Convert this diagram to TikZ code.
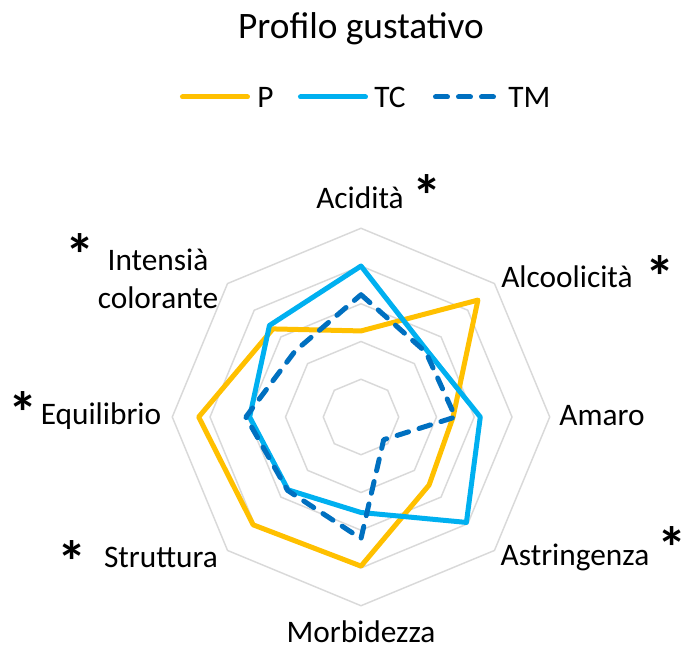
\documentclass[tikz,border=0pt]{standalone}
\usepackage{fontspec}
\setmainfont{Carlito}
\definecolor{pyellow}{HTML}{FFC000}
\definecolor{tcblue}{HTML}{00B0F0}
\definecolor{tmblue}{HTML}{0070C0}
\definecolor{gridgray}{HTML}{D9D9D9}
\begin{document}
\begin{tikzpicture}[
    x=0.75pt, y=0.75pt,
    ring/.style={draw=gridgray, line width=1.1pt},
    lbl/.style={font=\fontsize{23.5}{28.5}\selectfont, inner sep=0pt, align=center},
    star/.style={font=\fontsize{44}{44}\selectfont\bfseries, inner sep=0pt},
    pline/.style={draw=pyellow, line width=3.75pt, line join=round, line cap=round},
    tcline/.style={draw=tcblue, line width=3.75pt, line join=round, line cap=round},
    tmline/.style={draw=tmblue, line width=3.75pt, line join=round, line cap=round, dash pattern=on 9pt off 8.25pt}
]
    \useasboundingbox (-361,-233) rectangle (321,417);

    % Title
    \node[font=\fontsize{28}{34}\selectfont] (title) at (0,388) {Profilo gustativo};

    % Legend
    \node[lbl, anchor=west] (legp) at (-104,320) {P};
    \node[lbl, anchor=west] (legtc) at (13,320) {TC};
    \node[lbl, anchor=west] (legtm) at (147,320) {TM};
    \coordinate (pa) at (-178.5,320);
    \coordinate (pb) at (-113.5,320);
    \coordinate (tca) at (-60.5,320);
    \coordinate (tcb) at (4.5,320);
    \coordinate (tma) at (74.5,320);
    \coordinate (tmb) at (136,320);
    \draw[pline] (pa) -- (pb);
    \draw[tcline] (tca) -- (tcb);
    \draw[tmline] (tma) -- (tmb);

    % Radar grid and series
    \begin{scope}[x=28.31pt, y=28.31pt]
        \foreach \k in {1,...,5}
            \draw[ring] (90:\k) -- (45:\k) -- (0:\k) -- (-45:\k) -- (-90:\k) -- (-135:\k) -- (180:\k) -- (135:\k) -- cycle;
        \draw[pline] (90:2.28) -- (45:4.38) -- (0:2.44) -- (-45:2.55) -- (-90:3.95) -- (-135:4.04) -- (180:4.3) -- (135:3.3) -- cycle;
        \draw[tcline] (90:4.0) -- (45:2.48) -- (0:3.16) -- (-45:3.95) -- (-90:2.53) -- (-135:2.73) -- (180:2.95) -- (135:3.43) -- cycle;
        \draw[tmline] (90:3.24) -- (45:2.43) -- (0:2.5) -- (-45:0.85) -- (-90:3.22) -- (-135:2.75) -- (180:3.05) -- (135:2.47) -- cycle;
    \end{scope}

    % Axis labels
    \node[lbl] (acidita) at (-1,219) {Acidità};
    \node[lbl] (alcool) at (206,140) {Alcoolicità};
    \node[lbl] (amaro) at (241,1) {Amaro};
    \node[lbl] (astring) at (214,-140) {Astringenza};
    \node[lbl] (morbid) at (0,-215) {Morbidezza};
    \node[lbl] (strutt) at (-200,-140) {Struttura};
    \node[lbl] (equil) at (-260,1) {Equilibrio};
    \node[lbl] (intens) at (-203,138) {Intensià\\colorante};

    % Asterisks
    \node[star] (s1) at (66,221) {*};
    \node[star] (s2) at (299,140) {*};
    \node[star] (s3) at (311,-131) {*};
    \node[star] (s4) at (-289,-145) {*};
    \node[star] (s5) at (-338,4) {*};
    \node[star] (s6) at (-281,162) {*};
\end{tikzpicture}
\end{document}
